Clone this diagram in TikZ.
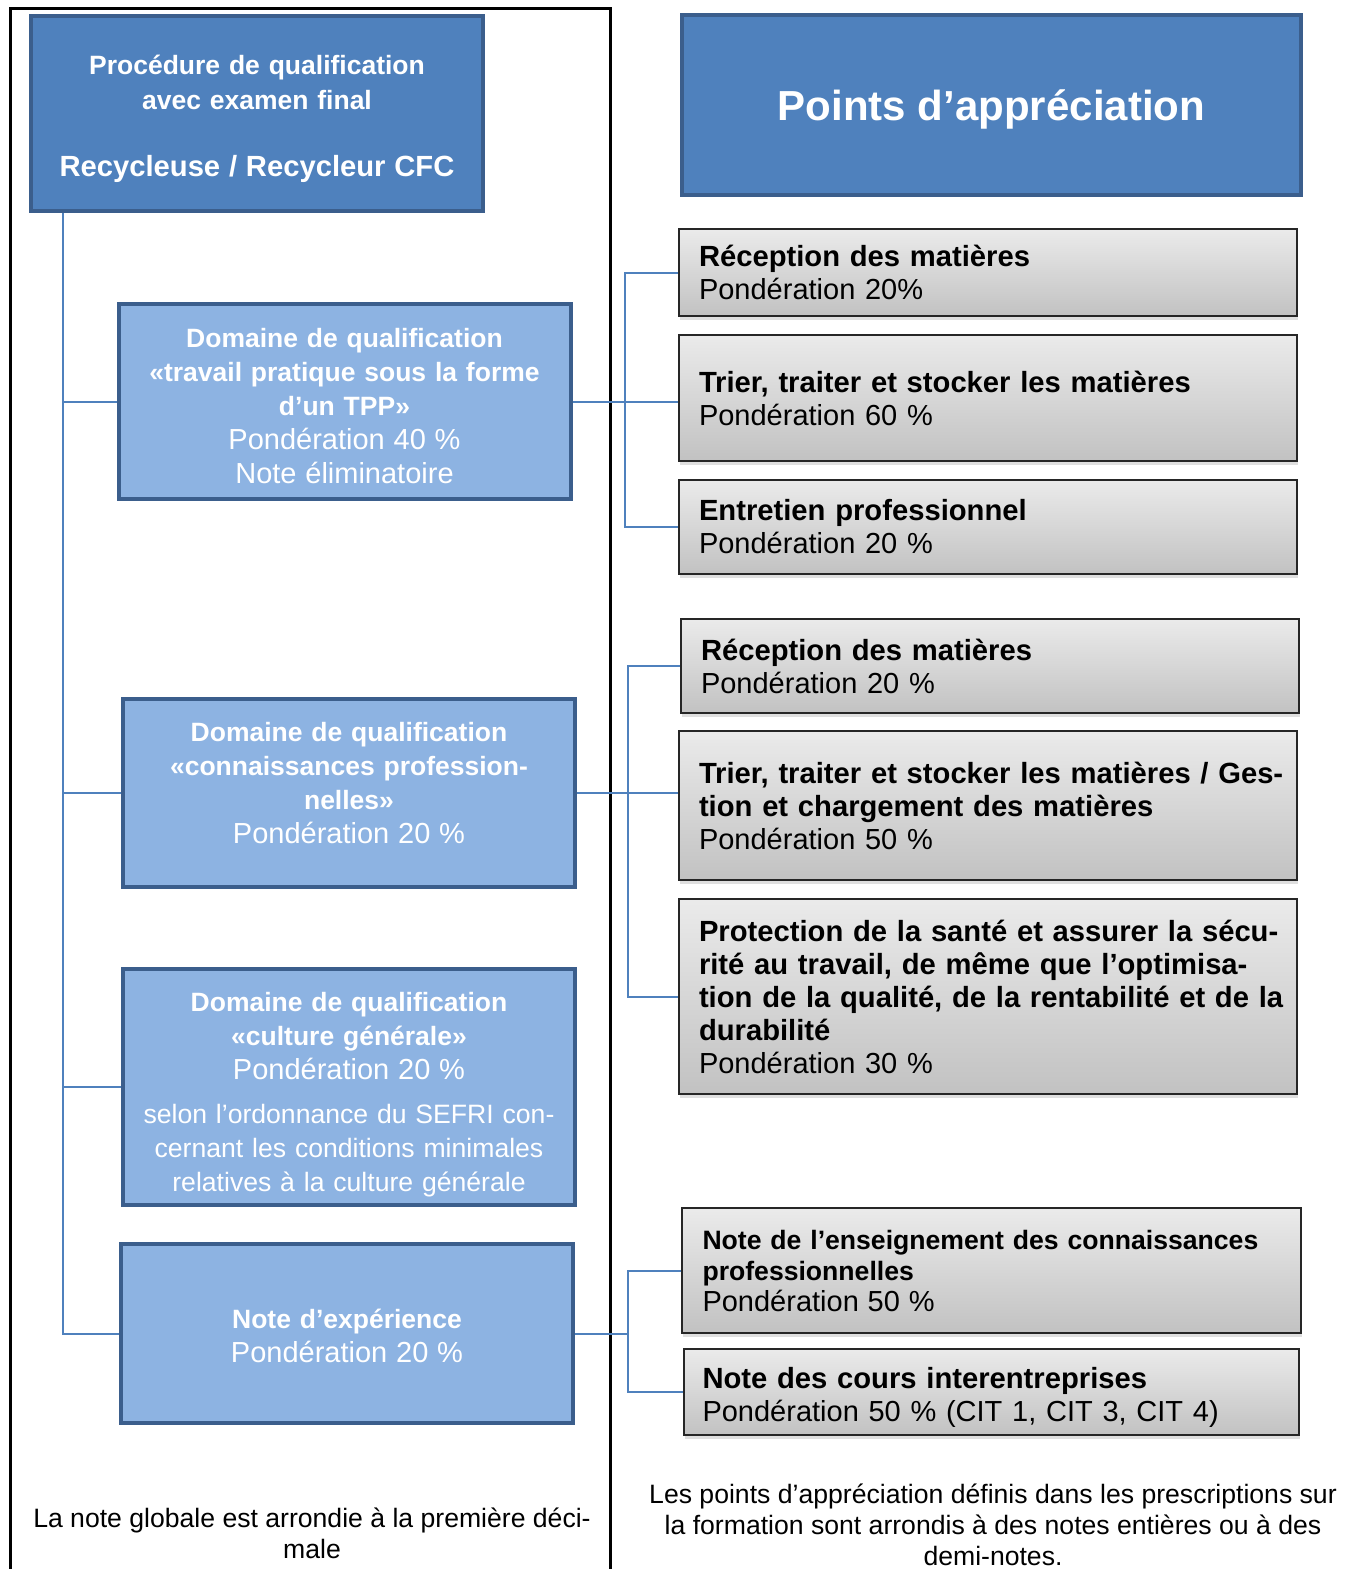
\documentclass[tikz,border=0pt]{standalone}
\usepackage{fontspec}
\setmainfont{Liberation Sans}
\usetikzlibrary{%
		calc%
		,shadows%
	}

\definecolor{boxdark}{HTML}{4F81BD}
\definecolor{boxlight}{HTML}{8DB3E2}
\definecolor{boxedge}{HTML}{3B5E8C}
\definecolor{linkblue}{HTML}{4F81BD}

\newcommand{\hdrg}{\fontsize{14.5}{17}\selectfont\mdseries}
\newcommand{\hdsm}{\fontsize{13.3}{17}\selectfont\mdseries}
\newcommand{\ptrg}{\fontsize{14.5}{16.5}\selectfont\mdseries}
\newcommand{\topgap}[1]{\rule{0pt}{#1}}
\newcommand{\botgap}[1]{\rule[-#1]{0pt}{0pt}}

\tikzset{
	headbox/.style={draw=boxedge, line width=2pt, fill=boxdark, text=white, inner sep=0pt, align=center},
	domainbox/.style={draw=boxedge, line width=2pt, fill=boxlight, text=white, inner sep=0pt, minimum width=226pt, text width=214pt, align=center, font=\fontsize{13.25}{17}\selectfont\bfseries},
	pointbox/.style={draw=black!85, line width=1pt, top color=gray!16, bottom color=gray!48, inner sep=0pt, minimum width=309pt, text width=289pt, align=left, font=\fontsize{14.6}{16.5}\selectfont\bfseries, drop shadow={opacity=0.25, shadow xshift=0.5pt, shadow yshift=-2pt}},
	link/.style={draw=linkblue, line width=1pt},
	notetext/.style={align=center, font=\fontsize{13.3}{15.5}\selectfont}
}

\begin{document}
\begin{tikzpicture}[x=0.5pt, y=-0.5pt]
			\useasboundingbox (0,0) rectangle (1355,1569);
			
			% Frame
			\draw[line width=1.5pt] (10,1569) -- (10,8) -- (610,8) -- (610,1569);
			
			% Heads
			\node[headbox, minimum width=226pt, minimum height=97.5pt, text width=214pt, font=\fontsize{13.25}{17.5}\selectfont\bfseries] (title) at (257,113.5)
				{\topgap{14.8pt}Procédure de qualification\\ avec examen final\\[16pt] \fontsize{14.6}{17}\selectfont Recycleuse / Recycleur CFC};
			\node[headbox, minimum width=309.5pt, minimum height=90pt, font=\fontsize{21}{25}\selectfont\bfseries] (points) at (991.5,105) {\topgap{19.6pt}Points d’appréciation};
			
			% Domains
			\node[domainbox, minimum height=97.5pt] (tpp) at (344.5,401.5)
				{\topgap{13.7pt}Domaine de qualification\\ «travail pratique sous la forme\\ d’un TPP»\\ \hdrg Pondération 40 \%\\ Note éliminatoire};
			\node[domainbox, minimum height=94pt] (conn) at (349,793)
				{Domaine de qualification\\ «connaissances profession-\\ nelles»\\ \hdrg Pondération 20 \%\botgap{10pt}};
			\node[domainbox, minimum height=118pt] (cult) at (349,1087)
				{\topgap{17.7pt}Domaine de qualification\\ «culture générale»\\ \hdrg Pondération 20 \%\\[5pt] \hdsm selon l’ordonnance du SEFRI con-\\ cernant les conditions minimales\\ relatives à la culture générale};
			\node[domainbox, minimum height=89.5pt] (exp) at (347,1333.5)
				{\topgap{12.3pt}Note d’expérience\\ \hdrg Pondération 20 \%};
			
			% Points TPP
			\node[pointbox, minimum height=43.5pt] (recA) at (988,272.5)
				{Réception des matières\\ \ptrg Pondération 20\%};
			\node[pointbox, minimum height=63pt] (triA) at (988,398)
				{Trier, traiter et stocker les matières\\ \ptrg Pondération 60 \%};
			\node[pointbox, minimum height=47pt] (entr) at (988,527)
				{Entretien professionnel\\ \ptrg Pondération 20 \%};
			
			% Points connaissances
			\node[pointbox, minimum height=47pt] (recB) at (990,666)
				{Réception des matières\\ \ptrg Pondération 20 \%};
			\node[pointbox, minimum height=74.5pt] (triB) at (988,805.5)
				{\mbox{Trier, traiter et stocker les matières / Ges-}\\ tion et chargement des matières\\ \ptrg Pondération 50 \%};
			\node[pointbox, minimum height=97.5pt] (prot) at (988,996.5)
				{\mbox{Protection de la santé et assurer la sécu-}\\ \mbox{rité au travail, de même que l’optimisa-}\\ \mbox{tion de la qualité, de la rentabilité et de la}\\ durabilité\\ \ptrg Pondération 30 \%};
			
			% Points experience
			\node[pointbox, minimum height=62.5pt, minimum width=309.5pt, font=\fontsize{13.3}{15.5}\selectfont\bfseries] (ens) at (991.5,1270.5)
				{Note de l’enseignement des connaissances\\ professionnelles\\ \fontsize{14.5}{15.5}\selectfont\mdseries Pondération 50 \%};
			\node[pointbox, minimum height=43pt, minimum width=307.5pt] (cit) at (991.5,1392)
				{\topgap{15.7pt}Note des cours interentreprises\\ \ptrg Pondération 50 \% (CIT 1, CIT 3, CIT 4)};
			
			% Left tree
			\coordinate (trunk) at ([xshift=17pt]title.south west);
			\draw[link] (trunk) |- (exp.west);
			\draw[link] (trunk |- tpp.west) -- (tpp.west);
			\draw[link] (trunk |- conn.west) -- (conn.west);
			\draw[link] (trunk |- cult.west) -- (cult.west);
			
			% Right trees
			\draw[link] (tpp.east) -- (tpp.east -| triA.west);
			\coordinate (busA) at ($(tpp.east)!0.5!(tpp.east -| triA.west)$);
			\draw[link] (recA.west) -| (busA) |- (entr.west);
			
			\draw[link] (conn.east) -- (conn.east -| triB.west);
			\coordinate (busB) at ($(conn.east)!0.5!(conn.east -| triB.west)$);
			\draw[link] (recB.west) -| (busB) |- (prot.west);
			
			\coordinate (busC) at ($(exp.east)!0.5!(exp.east -| ens.west)$);
			\draw[link] (exp.east) -- (busC);
			\draw[link] (ens.west) -| (busC) |- (cit.west);
			
			% Notes
			\node[notetext] (leftnote) at (312,1533) {La note globale est arrondie à la première déci-\\ male};
			\node[notetext] (rightnote) at (993,1525) {Les points d’appréciation définis dans les prescriptions sur\\ la formation sont arrondis à des notes entières ou à des\\ demi-notes.};
			
		\end{tikzpicture}
\end{document}
